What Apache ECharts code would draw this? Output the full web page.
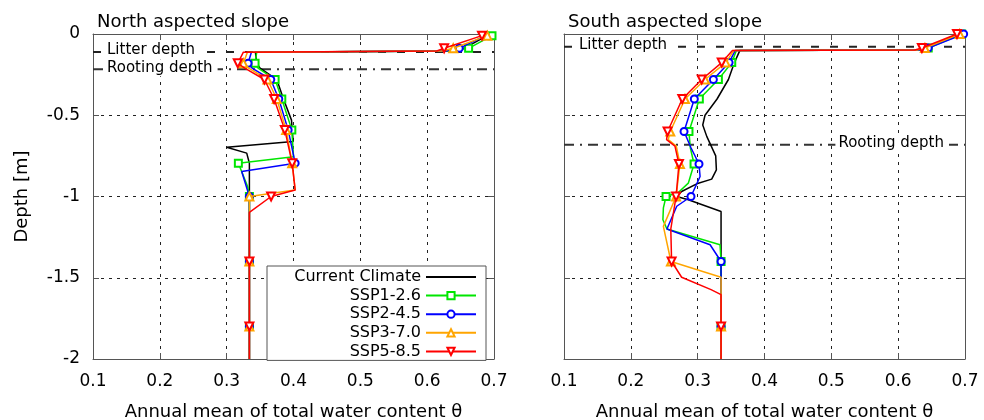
<!DOCTYPE html>
<html><head><meta charset="utf-8">
<script src="https://cdn.jsdelivr.net/npm/echarts/dist/echarts.min.js"></script>
<style>html,body{margin:0;padding:0;background:#fff}#c{width:984px;height:420px}</style>
</head><body><div id="c"></div>
<script>
// ---------------- data ----------------
const panelTitles = ['North aspected slope', 'South aspected slope'];
const seriesNames = ['Current Climate', 'SSP1-2.6', 'SSP2-4.5', 'SSP3-7.0', 'SSP5-8.5'];
const xAxisName = 'Annual mean of total water content \u03b8';
const yAxisName = 'Depth [m]';

// reference depths [m]
const litterDepthN = -0.11, rootingDepthN = -0.217;
const litterDepthS = -0.078, rootingDepthS = -0.682;

// depths at which markers are drawn
const markerDepthsN = [-0.01, -0.088, -0.18, -0.28, -0.40, -0.59, -0.795, -1.0, -1.4, -1.8];
const markerDepthsS = [0, -0.086, -0.176, -0.28, -0.40, -0.60, -0.80, -1.0, -1.4, -1.8];

// ---- North aspected slope ----
const nCurX = [0.69, 0.655, 0.63, 0.343, 0.345, 0.35, 0.375, 0.385, 0.397, 0.398, 0.3995, 0.300, 0.330, 0.334, 0.334, 0.334];
const nCurD = [-0.01, -0.088, -0.105, -0.112, -0.18, -0.21, -0.28, -0.40, -0.53, -0.59, -0.662, -0.697, -0.733, -0.795, -0.98, -2.0];
const nS1X = [0.697, 0.662, 0.635, 0.345, 0.3425, 0.347, 0.3725, 0.3825, 0.3975, 0.40, 0.3175, 0.3315, 0.334, 0.334, 0.334, 0.334];
const nS1D = [-0.01, -0.088, -0.105, -0.112, -0.18, -0.21, -0.28, -0.40, -0.59, -0.755, -0.795, -0.94, -1.0, -1.4, -1.8, -2.0];
const nS2X = [0.687, 0.648, 0.628, 0.337, 0.332, 0.338, 0.366, 0.378, 0.392, 0.4025, 0.3225, 0.334, 0.334, 0.334, 0.334];
const nS2D = [-0.01, -0.088, -0.105, -0.112, -0.18, -0.21, -0.28, -0.40, -0.59, -0.795, -0.846, -1.0, -1.4, -1.8, -2.0];
const nS3X = [0.69, 0.639, 0.622, 0.331, 0.325, 0.333, 0.361, 0.375, 0.389, 0.398, 0.4025, 0.334, 0.334, 0.334, 0.334];
const nS3D = [-0.01, -0.088, -0.105, -0.112, -0.18, -0.21, -0.28, -0.40, -0.59, -0.795, -0.96, -1.0, -1.4, -1.8, -2.0];
const nS5X = [0.682, 0.6254, 0.6144, 0.325, 0.3166, 0.327, 0.3565, 0.371, 0.387, 0.398, 0.4025, 0.3665, 0.334, 0.334, 0.334, 0.334];
const nS5D = [-0.01, -0.088, -0.105, -0.112, -0.18, -0.21, -0.28, -0.40, -0.59, -0.795, -0.96, -1.0, -1.098, -1.4, -1.8, -2.0];

// ---- South aspected slope ----
const sCurX = [0.69, 0.643, 0.63, 0.363, 0.355, 0.346, 0.329, 0.311, 0.3076, 0.3136, 0.327, 0.328, 0.321, 0.2986, 0.276, 0.2687, 0.286, 0.335, 0.335];
const sCurD = [0, -0.086, -0.098, -0.102, -0.176, -0.28, -0.40, -0.50, -0.56, -0.63, -0.75, -0.836, -0.893, -0.922, -0.969, -1.0, -1.02, -1.092, -2.0];
const sS1X = [0.695, 0.645, 0.632, 0.358, 0.351, 0.331, 0.3025, 0.287, 0.289, 0.2946, 0.286, 0.271, 0.2527, 0.2487, 0.248, 0.254, 0.3335, 0.335, 0.335, 0.335];
const sS1D = [0, -0.086, -0.098, -0.102, -0.176, -0.28, -0.40, -0.60, -0.70, -0.80, -0.918, -0.975, -1.0, -1.07, -1.143, -1.20, -1.297, -1.4, -1.8, -2.0];
const sS2X = [0.698, 0.645, 0.632, 0.356, 0.347, 0.3235, 0.295, 0.2796, 0.29, 0.302, 0.3036, 0.29, 0.2687, 0.254, 0.3186, 0.335, 0.335, 0.335];
const sS2D = [0, -0.086, -0.098, -0.102, -0.176, -0.28, -0.40, -0.60, -0.70, -0.80, -0.877, -1.0, -1.06, -1.20, -1.297, -1.4, -1.8, -2.0];
const sS3X = [0.692, 0.640, 0.628, 0.354, 0.342, 0.311, 0.281, 0.259, 0.256, 0.268, 0.2735, 0.2677, 0.2487, 0.260, 0.335, 0.335, 0.335];
const sS3D = [0, -0.086, -0.098, -0.102, -0.176, -0.28, -0.40, -0.60, -0.65, -0.69, -0.80, -1.0, -1.184, -1.4, -1.497, -1.8, -2.0];
const sS5X = [0.688, 0.6355, 0.625, 0.352, 0.336, 0.306, 0.277, 0.255, 0.2535, 0.266, 0.272, 0.2677, 0.2598, 0.261, 0.276, 0.32, 0.335, 0.335, 0.335];
const sS5D = [0, -0.086, -0.098, -0.102, -0.176, -0.28, -0.40, -0.60, -0.65, -0.69, -0.80, -1.0, -1.2, -1.4, -1.497, -1.573, -1.604, -1.8, -2.0];

// ---------------- styles ----------------
const FONT = 'DejaVu Sans';
const colors = ['#000000', '#00e600', '#0000ff', '#ffa500', '#ff0000'];
const symbols = ['none', 'emptyRect', 'emptyCircle', 'emptyTriangle', 'emptyTriangle'];
const symbolSizes = [0, 7, 7, 8, 8];
const symbolRot = [0, 0, 0, 0, 180];
const frameColor = '#555';

function pts(xs, ds, markers, hasMarkers) {
  return xs.map((x, i) => {
    const m = hasMarkers && markers.includes(ds[i]);
    return m ? { value: [x, ds[i]] } : { value: [x, ds[i]], symbol: 'none' };
  });
}

const panelData = [
  { xs: [nCurX, nS1X, nS2X, nS3X, nS5X], ds: [nCurD, nS1D, nS2D, nS3D, nS5D], markers: markerDepthsN, litter: litterDepthN, rooting: rootingDepthN },
  { xs: [sCurX, sS1X, sS2X, sS3X, sS5X], ds: [sCurD, sS1D, sS2D, sS3D, sS5D], markers: markerDepthsS, litter: litterDepthS, rooting: rootingDepthS }
];

const grids = [
  { left: 93, top: 34, width: 401, height: 325, outerBoundsMode: 'none', containLabel: false },
  { left: 564, top: 34, width: 401, height: 325, outerBoundsMode: 'none', containLabel: false }
];

const xAxes = [], yAxes = [], series = [];
grids.forEach((g, gi) => {
  const dashGrid = { show: true, lineStyle: { color: '#222', width: 1, type: [3, 5] } };
  xAxes.push({
    type: 'value', gridIndex: gi, position: 'bottom', min: 0.1, max: 0.7, interval: 0.1,
    name: xAxisName, nameLocation: 'middle', nameGap: 44,
    nameTextStyle: { fontFamily: FONT, fontSize: 18, color: '#000' },
    axisLine: { show: true, onZero: false, lineStyle: { color: frameColor, width: 1 } },
    axisTick: { show: true, inside: true, length: 6, lineStyle: { color: frameColor } },
    axisLabel: { fontFamily: FONT, fontSize: 17, color: '#000', margin: 14, formatter: v => (+v.toFixed(1)).toString() },
    splitLine: dashGrid
  });
  xAxes.push({
    type: 'value', gridIndex: gi, position: 'top', min: 0.1, max: 0.7, interval: 0.1,
    axisLine: { show: true, onZero: false, lineStyle: { color: frameColor, width: 1 } },
    axisTick: { show: true, inside: true, length: 6, lineStyle: { color: frameColor } },
    axisLabel: { show: false }, splitLine: { show: false }
  });
  yAxes.push({
    type: 'value', gridIndex: gi, position: 'left', min: -2, max: 0, interval: 0.5,
    name: gi === 0 ? yAxisName : '', nameLocation: 'middle', nameGap: 62,
    nameTextStyle: { fontFamily: FONT, fontSize: 18, color: '#000' },
    axisLine: { show: true, onZero: false, lineStyle: { color: frameColor, width: 1 } },
    axisTick: { show: true, inside: true, length: 6, lineStyle: { color: frameColor } },
    axisLabel: { show: gi === 0, fontFamily: FONT, fontSize: 17, color: '#000', margin: 13 },
    splitLine: dashGrid
  });
  yAxes.push({
    type: 'value', gridIndex: gi, position: 'right', min: -2, max: 0, interval: 0.5,
    axisLine: { show: true, onZero: false, lineStyle: { color: frameColor, width: 1 } },
    axisTick: { show: true, inside: true, length: 6, lineStyle: { color: frameColor } },
    axisLabel: { show: false }, splitLine: { show: false }
  });

  const pd = panelData[gi];
  // reference lines
  series.push({
    type: 'line', name: 'litter' + gi, xAxisIndex: gi * 2, yAxisIndex: gi * 2, silent: true, symbol: 'none',
    data: [[0.1, pd.litter], [0.7, pd.litter]], z: 1,
    lineStyle: { color: '#222', width: 2, type: [8, 11] }
  });
  series.push({
    type: 'line', name: 'rooting' + gi, xAxisIndex: gi * 2, yAxisIndex: gi * 2, silent: true, symbol: 'none',
    data: [[0.1, pd.rooting], [0.7, pd.rooting]], z: 1,
    lineStyle: { color: '#333', width: 2, type: [10, 6, 2, 6] }
  });
  seriesNames.forEach((nm, si) => {
    series.push({
      type: 'line', name: nm, xAxisIndex: gi * 2, yAxisIndex: gi * 2,
      data: pts(pd.xs[si], pd.ds[si], pd.markers, si > 0),
      symbol: symbols[si], symbolSize: symbolSizes[si], symbolRotate: symbolRot[si],
      showSymbol: si > 0, showAllSymbol: true,
      lineStyle: { color: colors[si], width: 1.5 },
      itemStyle: { color: colors[si], borderColor: colors[si], borderWidth: 1.3 },
      emphasis: { disabled: true }, z: 3 + si, clip: false
    });
  });
});

const legendData = seriesNames.map((n, i) => i === 0 ? { name: n, itemStyle: { opacity: 0 } } : { name: n });

const chart = echarts.init(document.getElementById('c'), null, { renderer: 'canvas' });
chart.setOption({
  animation: false,
  backgroundColor: '#fff',
  title: panelTitles.map((t, i) => ({
    text: t, left: grids[i].left + 4, top: 13, padding: 0,
    textStyle: { fontFamily: FONT, fontSize: 18, fontWeight: 'normal', color: '#000' }
  })),
  grid: grids,
  xAxis: xAxes,
  yAxis: yAxes,
  legend: {
    data: legendData, orient: 'vertical', left: 267, top: 266, align: 'right',
    itemWidth: 50, itemHeight: 9, itemGap: 2.6,
    padding: [3, 9, 1, 8], borderColor: frameColor, borderWidth: 1, backgroundColor: '#fff',
    symbolRotate: 'inherit',
    textStyle: { fontFamily: FONT, fontSize: 16, color: '#000',
      rich: { n: { fontFamily: FONT, fontSize: 16, width: 146, align: 'right', lineHeight: 18 } } },
    formatter: n => '{n|' + n + '}'
  },
  series: series
});

// text labels for the reference depth lines
const labelStyle = { fontFamily: FONT, fontSize: 15, fill: '#000', backgroundColor: '#fff', padding: [1, 5, 1, 3] };
function yPix(gi, d) { return chart.convertToPixel({ gridIndex: gi }, [0.4, d])[1]; }
chart.setOption({
  graphic: [
    { type: 'text', left: grids[0].left + 11, top: yPix(0, litterDepthN) - 10, style: Object.assign({ text: 'Litter depth' }, labelStyle), z: 10 },
    { type: 'text', left: grids[0].left + 11, top: yPix(0, rootingDepthN) - 10, style: Object.assign({ text: 'Rooting depth' }, labelStyle), z: 10 },
    { type: 'text', left: grids[1].left + 12, top: yPix(1, litterDepthS) - 10, style: Object.assign({ text: 'Litter depth' }, labelStyle), z: 10 },
    { type: 'text', right: 984 - (grids[1].left + grids[1].width) + 16, top: yPix(1, rootingDepthS) - 10, style: Object.assign({ text: 'Rooting depth' }, labelStyle), z: 10 }
  ]
});
</script>
</body></html>
